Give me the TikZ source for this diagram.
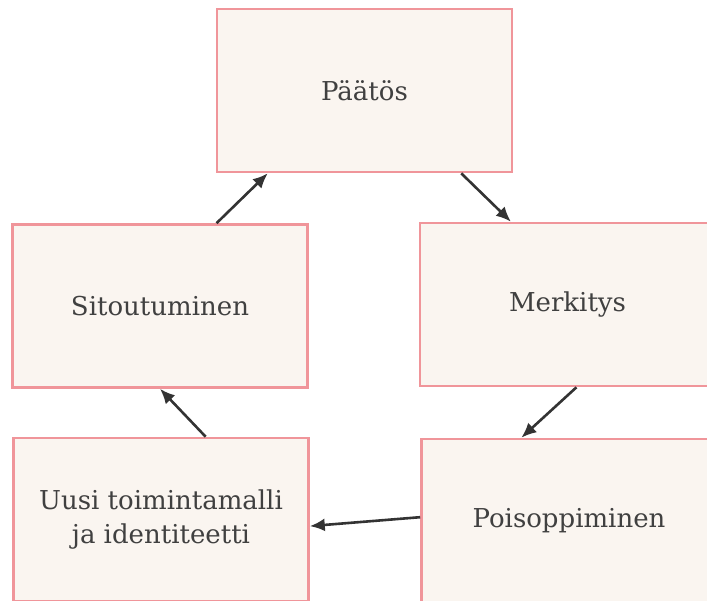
\documentclass[tikz,border=0pt]{standalone}
\usepackage{fontspec}
\setmainfont{DejaVu Serif}
\usetikzlibrary{arrows.meta,calc}
\definecolor{boxfill}{HTML}{FAF5F0}
\definecolor{boxline}{HTML}{F0959A}
\definecolor{txt}{HTML}{404040}
\definecolor{arr}{HTML}{333333}
\begin{document}
\begin{tikzpicture}[x=1pt,y=-1pt,
  stepbox/.style={draw=boxline,line width=2.6pt,fill=boxfill,rectangle,
    minimum width=295pt,minimum height=163pt,inner sep=0pt,
    text=txt,font=\fontsize{26}{34}\selectfont,align=center},
  conn/.style={draw=arr,line width=2.6pt,-{Latex[length=15pt,width=13pt]}}]
\useasboundingbox (0,0) rectangle (707,601);
\clip (0,0) rectangle (707,601);
\node[stepbox] (p) at (364.5,90.5) {Päätös};
\node[stepbox] (m) at (567.5,304.5) {Merkitys};
\node[stepbox] (s) at (160,306) {Sitoutuminen};
\node[stepbox] (u) at (161,519.5) {Uusi toimintamalli\\ja identiteetti};
\node[stepbox] (o) at (569,520.5) {Poisoppiminen};
\draw[conn] ($(p.south west)!0.825!(p.south east)$) -- ($(m.north west)!0.31!(m.north east)$);
\draw[conn] ($(m.south west)!0.53!(m.south east)$) -- ($(o.north west)!0.34!(o.north east)$);
\draw[conn] ($(o.north west)!0.48!(o.south west)$) -- ($(u.north east)!0.54!(u.south east)$);
\draw[conn] ($(u.north west)!0.65!(u.north east)$) -- ($(s.south west)!0.5!(s.south east)$);
\draw[conn] ($(s.north west)!0.69!(s.north east)$) -- ($(p.south west)!0.175!(p.south east)$);
\end{tikzpicture}
\end{document}
